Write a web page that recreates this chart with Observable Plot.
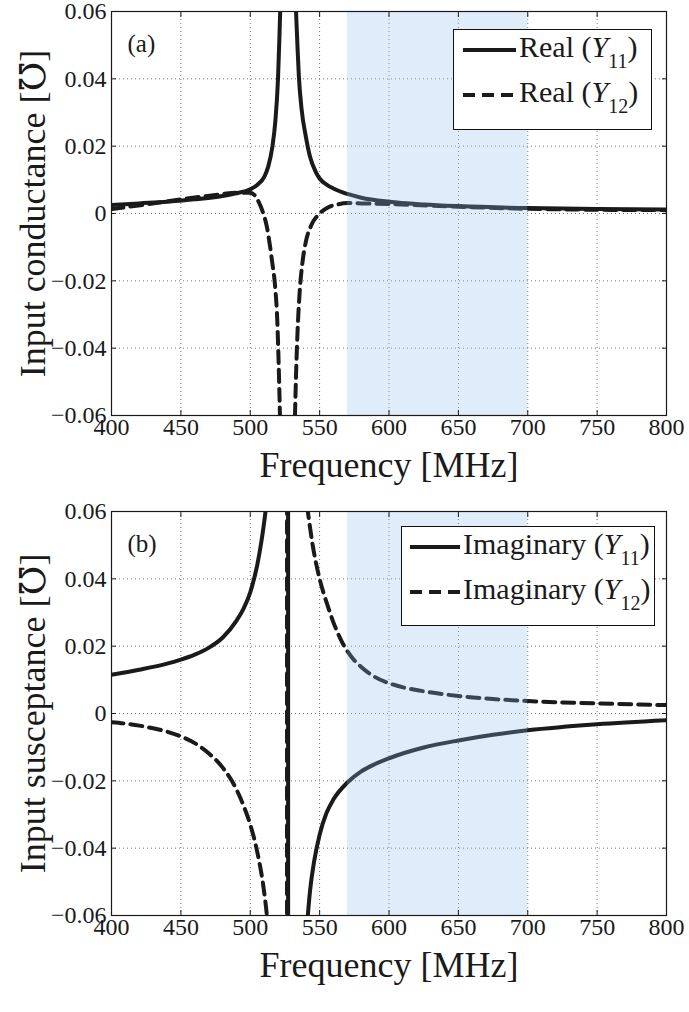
<!DOCTYPE html>
<html><head><meta charset="utf-8">
<script src="https://cdn.jsdelivr.net/npm/d3@7"></script>
<script src="https://cdn.jsdelivr.net/npm/@observablehq/plot@0.6"></script>
<style>
body{margin:0;background:#fff;}
#wrap{position:relative;width:689px;height:1012px;font-family:"Liberation Serif","DejaVu Serif","Times New Roman",serif;}
.panel{position:absolute;left:0;}
.legend{position:absolute;background:#fff;border:1.3px solid #111;box-sizing:border-box;}
.legend svg{display:block;}
</style></head><body><div id="wrap"></div><script>
const FONT = '"Liberation Serif","DejaVu Serif","Times New Roman",serif';
// ---- axes / annotations ----
const xTicks = [400, 450, 500, 550, 600, 650, 700, 750, 800];
const xTickLabels = ["400", "450", "500", "550", "600", "650", "700", "750", "800"];
const yTicks = [-0.06, -0.04, -0.02, 0, 0.02, 0.04, 0.06];
const yTickLabels = ["\u22120.06", "\u22120.04", "\u22120.02", "0", "0.02", "0.04", "0.06"];
const shadeBand = [570, 700];
const xLabel = "Frequency [MHz]";
const yLabelA = "Input conductance [\u2127]";
const yLabelB = "Input susceptance [\u2127]";

// ---- panel (a): real parts ----
const freqReY11 = [400,420,440,460,480,490,500,505,510,513,516,518,520,521,522,524,527,530,532,533,534,535,537,540,543,547,550,555,560,570,580,600,625,650,700,750,800];
const reY11 = [0.0025,0.003,0.0035,0.0042,0.0052,0.006,0.0072,0.0085,0.0108,0.014,0.02,0.027,0.04,0.052,0.066,0.1,0.2,0.1,0.07,0.06,0.05,0.041,0.031,0.023,0.017,0.0125,0.0104,0.0086,0.0074,0.0058,0.0047,0.0035,0.0027,0.0022,0.0016,0.0013,0.0012];
const freqReY12 = [400,425,450,475,490,500,503,506,509,512,514,516,518,519.5,520.5,521.5,524,527,530,532,533,534,535.5,537.5,540,544,550,556,563,570,580,600,650,700,750,800];
const reY12 = [0.0013,0.0027,0.0042,0.0055,0.0062,0.0062,0.0055,0.0035,0.0005,-0.004,-0.009,-0.015,-0.022,-0.032,-0.045,-0.062,-0.12,-0.2,-0.12,-0.065,-0.048,-0.036,-0.024,-0.015,-0.0085,-0.0035,0.0,0.0018,0.0027,0.0031,0.003,0.0028,0.002,0.0014,0.0011,0.001];

// ---- panel (b): imaginary parts ----
const freqImY11 = [400,420,440,450,460,470,480,490,495,500,505,508,511,513,518,524,527.2,527.4,530,536,539,541.5,543,546,550,555,560,570,580,590,600,625,650,675,700,750,800];
const imY11 = [0.0115,0.013,0.0148,0.016,0.0175,0.0195,0.0225,0.0275,0.031,0.036,0.044,0.051,0.06,0.068,0.1,0.3,1,-1,-0.3,-0.1,-0.075,-0.06,-0.053,-0.044,-0.036,-0.0295,-0.0255,-0.0205,-0.0172,-0.015,-0.0133,-0.0101,-0.008,-0.0063,-0.005,-0.0032,-0.002];
const freqImY12 = [400,410,420,430,440,450,460,470,480,490,495,500,505,510,512,515,520,526.4,526.6,530,535,539,541.5,545,550,555,560,565,570,575,580,590,600,625,650,675,700,750,800];
const imY12 = [-0.0026,-0.003,-0.0036,-0.0044,-0.0054,-0.0068,-0.0088,-0.0118,-0.016,-0.0225,-0.0272,-0.033,-0.041,-0.053,-0.06,-0.075,-0.12,-1,1,0.2,0.09,0.068,0.06,0.05,0.04,0.033,0.027,0.0222,0.0185,0.0158,0.0138,0.0108,0.009,0.0066,0.0052,0.0043,0.0037,0.003,0.0025];

const legendA = [{name: "Real", sub: "11", dashed: false}, {name: "Real", sub: "12", dashed: true}];
const legendB = [{name: "Imaginary", sub: "11", dashed: false}, {name: "Imaginary", sub: "12", dashed: true}];

const zip = (fs, vs) => fs.map((f, i) => ({f, v: vs[i]}));
const INK = "#1a1a1a";
const DASH = "12,7";

function panel({series, yLabel, tag, mTop, plotH, mBottom}) {
  const tickOpts = {tickFormat: () => "", label: null, tickSize: -5, stroke: INK};
  return Plot.plot({
    width: 689,
    height: mTop + plotH + mBottom,
    marginLeft: 111, marginRight: 23, marginTop: mTop, marginBottom: mBottom,
    style: {fontFamily: FONT, fontSize: "24px", color: INK, background: "transparent", overflow: "visible"},
    x: {domain: [400, 800], axis: null},
    y: {domain: [-0.06, 0.06], axis: null},
    marks: [
      Plot.gridX(xTicks.slice(1, -1), {stroke: "#777", strokeOpacity: 1, strokeDasharray: "1,3", strokeWidth: 1}),
      Plot.gridY(yTicks.slice(1, -1), {stroke: "#777", strokeOpacity: 1, strokeDasharray: "1,3", strokeWidth: 1}),
      ...series.map(s => Plot.line(s.data, {x: "f", y: "v", curve: "monotone-x", stroke: INK, strokeWidth: 4, strokeDasharray: s.dashed ? DASH : null, clip: true})),
      Plot.rect([shadeBand], {x1: d => d[0], x2: d => d[1], fill: "rgb(137,191,233)", fillOpacity: 0.28}),
      Plot.frame({stroke: INK, strokeWidth: 1.2}),
      Plot.axisX(xTicks, {anchor: "bottom", ...tickOpts}),
      Plot.axisX(xTicks, {anchor: "top", ...tickOpts}),
      Plot.axisY(yTicks, {anchor: "left", ...tickOpts}),
      Plot.axisY(yTicks, {anchor: "right", ...tickOpts}),
      Plot.text(xTicks, {x: d => d, text: (d, i) => xTickLabels[i], frameAnchor: "bottom", lineAnchor: "top", textAnchor: "middle", dy: 2, fontSize: 24, fontFamily: FONT, fontVariant: "normal"}),
      Plot.text(yTicks, {y: d => d, text: (d, i) => yTickLabels[i], frameAnchor: "left", lineAnchor: "middle", textAnchor: "end", dx: -5, fontSize: 24, fontFamily: FONT, fontVariant: "normal"}),
      Plot.text([xLabel], {frameAnchor: "bottom", dy: 50, fontSize: 36, textAnchor: "middle", lineAnchor: "middle", fontFamily: FONT}),
      Plot.text([yLabel], {frameAnchor: "left", rotate: -90, dx: -78, fontSize: 36, textAnchor: "middle", lineAnchor: "middle", fontFamily: FONT}),
      Plot.text([tag], {frameAnchor: "top-left", dx: 16, dy: 32, fontSize: 25, textAnchor: "start", lineAnchor: "middle", fontFamily: FONT})
    ]
  });
}

function legend({left, top, w, h, x1, x2, tx, entries, rows}) {
  const div = document.createElement("div");
  div.className = "legend";
  Object.assign(div.style, {left: left + "px", top: top + "px", width: w + "px", height: h + "px"});
  let s = `<svg width="${w - 3}" height="${h - 3}" style='font-family:${FONT}' fill="${INK}">`;
  entries.forEach((e, i) => {
    const b = rows[i];
    s += `<line x1="${x1}" x2="${x2}" y1="${b - 7}" y2="${b - 7}" stroke="${INK}" stroke-width="4" ${e.dashed ? `stroke-dasharray="${DASH}"` : ""}/>`;
    s += `<text x="${tx}" y="${b}" font-size="30">${e.name} (<tspan font-style="italic">Y</tspan><tspan dy="11" font-size="20">${e.sub}</tspan><tspan dy="-11">)</tspan></text>`;
  });
  s += "</svg>";
  div.innerHTML = s;
  return div;
}

const wrap = document.getElementById("wrap");

const a = panel({
  series: [{data: zip(freqReY11, reY11), dashed: false}, {data: zip(freqReY12, reY12), dashed: true}],
  yLabel: yLabelA, tag: "(a)", mTop: 11, plotH: 404, mBottom: 85
});
a.classList.add("panel"); a.style.top = "0px";
wrap.appendChild(a);

const b = panel({
  series: [{data: zip(freqImY11, imY11), dashed: false}, {data: zip(freqImY12, imY12), dashed: true}],
  yLabel: yLabelB, tag: "(b)", mTop: 11, plotH: 404, mBottom: 97
});
b.classList.add("panel"); b.style.top = "500px";
wrap.appendChild(b);

wrap.appendChild(legend({left: 453, top: 29, w: 199, h: 101, x1: 9, x2: 62, tx: 65, entries: legendA, rows: [27, 72]}));
wrap.appendChild(legend({left: 401, top: 526, w: 254, h: 100, x1: 8, x2: 58, tx: 61, entries: legendB, rows: [27, 72]}));
</script></body></html>
